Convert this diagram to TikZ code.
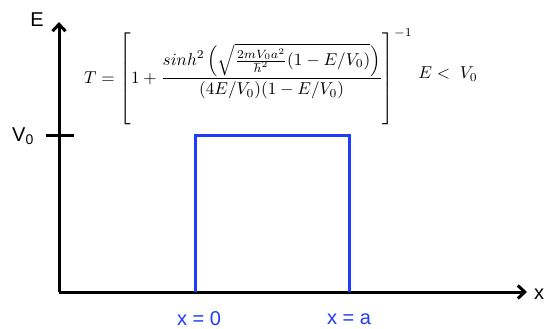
\documentclass[tikz,border=0pt]{standalone}
\usepackage{fontspec}
\setmainfont{Liberation Sans}
\usepackage{amsmath}
\usetikzlibrary{arrows.meta}
\definecolor{wellblue}{RGB}{30,60,250}
\begin{document}
\begin{tikzpicture}[x=1pt,y=-1pt,
  axis/.style={line width=3pt,black},
  well/.style={line width=3pt,wellblue},
  lbl/.style={font=\fontsize{20}{22}\selectfont,inner sep=0pt},
  bluelbl/.style={lbl,text=wellblue}]
\useasboundingbox (0,0) rectangle (546,329);
\coordinate (O) at (59,292);
\coordinate (Etip) at (59,22);
\coordinate (Xtip) at (527,292);
\draw[axis,-{Straight Barb[length=7pt,width=13pt,line width=3pt]}] (O) -- (Etip);
\draw[axis,-{Straight Barb[length=7pt,width=13pt,line width=3pt]}] (O) -- (Xtip);
\coordinate (t1) at (46,135);
\coordinate (t2) at (74,135);
\draw[axis] (t1) -- (t2);
\coordinate (w1) at (195,292);
\coordinate (w2) at (195,135);
\coordinate (w3) at (349,135);
\coordinate (w4) at (349,292);
\draw[well,line join=miter] (w1) -- (w2) -- (w3) -- (w4);
\node[lbl] (Elbl) at (37,20) {E};
\node[lbl] (xlbl) at (539,294) {x};
\node[lbl] (Vlbl) at (23,136) {V\textsubscript{0}};
\node[bluelbl] (x0) at (199,319) {x = 0};
\node[bluelbl] (xa) at (349,319) {x = a};
\node[inner sep=0pt,anchor=west] (formula) at (84,77) {\scalebox{1.72}{$T=\left[\vphantom{\rule{0pt}{29.5pt}}1+\dfrac{sinh^2\left(\sqrt{\frac{2mV_0a^2}{\hbar^2}(1-E/V_0)}\right)}{(4E/V_0)(1-E/V_0)}\right]^{-1}$}};
\node[inner sep=0pt] (cond) at (448,74) {\scalebox{1.72}{$E<\;V_0$}};
\end{tikzpicture}
\end{document}
